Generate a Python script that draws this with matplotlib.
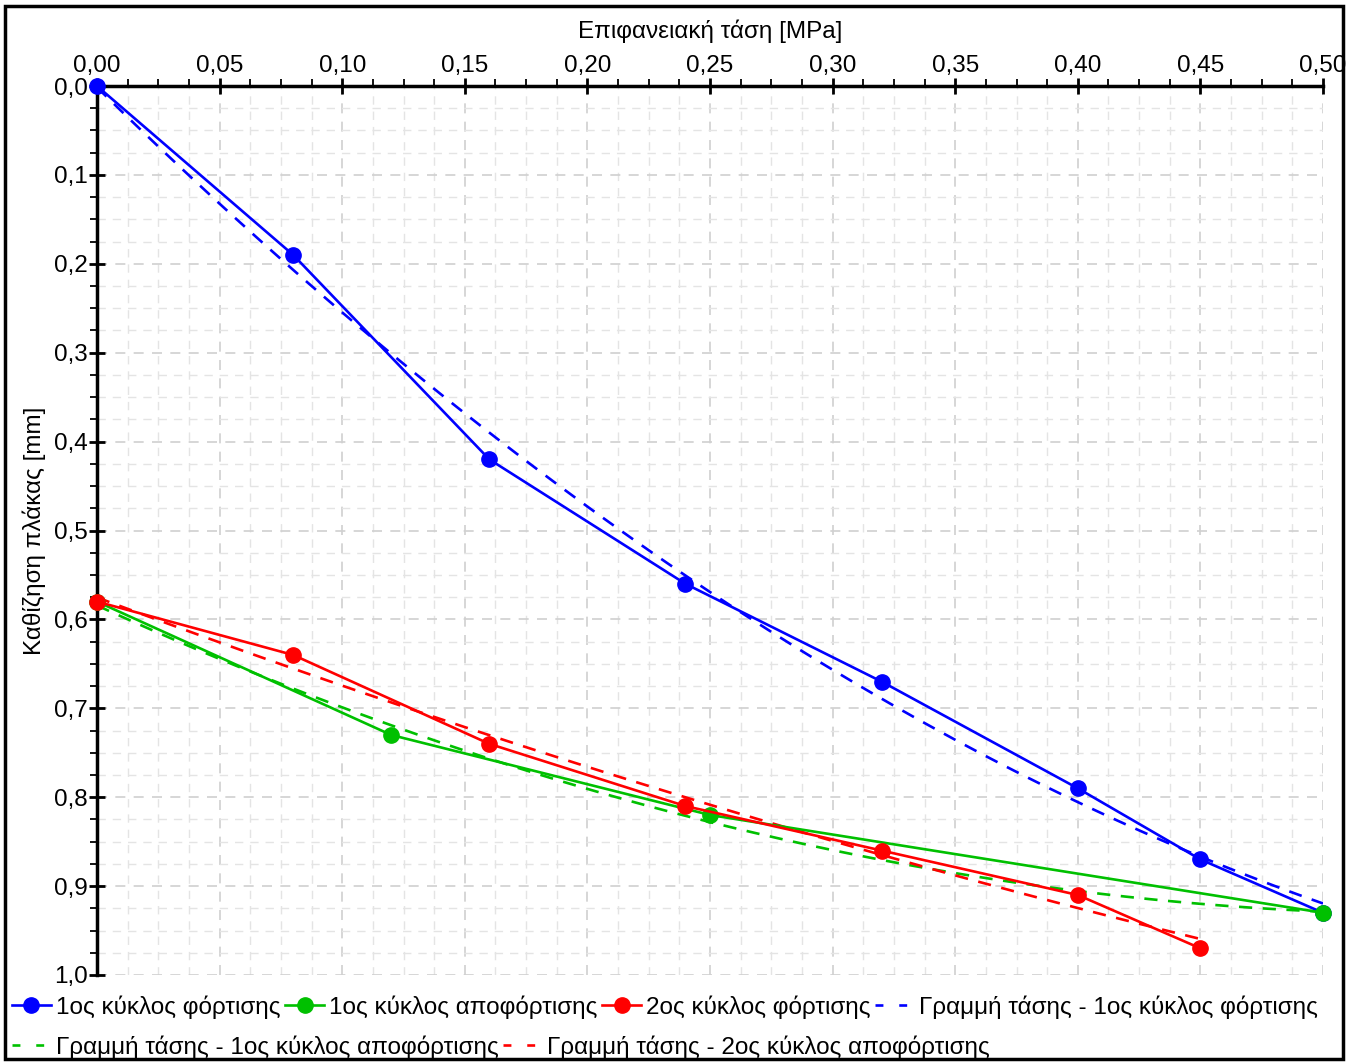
import numpy as np
import matplotlib.pyplot as plt
from matplotlib.ticker import MultipleLocator, FuncFormatter
from matplotlib.lines import Line2D
from matplotlib.patches import Rectangle

plt.rcParams["font.family"] = ["Liberation Sans", "DejaVu Sans"]

# 1ος κύκλος φόρτισης
load1_x = [0.00, 0.08, 0.16, 0.24, 0.32, 0.40, 0.45, 0.50]
load1_y = [0.00, 0.19, 0.42, 0.56, 0.67, 0.79, 0.87, 0.93]
# 1ος κύκλος αποφόρτισης
unload1_x = [0.50, 0.25, 0.12, 0.00]
unload1_y = [0.93, 0.82, 0.73, 0.58]
# 2ος κύκλος φόρτισης
load2_x = [0.00, 0.08, 0.16, 0.24, 0.32, 0.40, 0.45]
load2_y = [0.58, 0.64, 0.74, 0.81, 0.86, 0.91, 0.97]

BLUE = "#0000FF"
GREEN = "#00C000"
RED = "#FF0000"
FS = 17.5

fig = plt.figure(figsize=(13.48, 10.64), dpi=100)
ax = fig.add_axes([97 / 1348, 1 - 975 / 1064, (1323 - 97) / 1348, (975 - 86) / 1064])

series = [
    (load1_x, load1_y, BLUE),
    (unload1_x, unload1_y, GREEN),
    (load2_x, load2_y, RED),
]
for xs, ys, c in series:
    ax.plot(xs, ys, color=c, lw=1.9, marker="o", markersize=11, zorder=3, clip_on=False)

# trend lines (quadratic fit of each series)
for xs, ys, c in series:
    coef = np.polyfit(xs, ys, 2)
    xx = np.linspace(min(xs), max(xs), 100)
    ax.plot(xx, np.polyval(coef, xx), color=c, lw=1.9, ls=(0, (5, 4)), zorder=2)

ax.set_xlim(0, 0.5)
ax.set_ylim(1.0, 0.0)
ax.xaxis.tick_top()
ax.xaxis.set_label_position("top")
ax.xaxis.set_major_locator(MultipleLocator(0.05))
ax.xaxis.set_minor_locator(MultipleLocator(0.0125))
ax.yaxis.set_major_locator(MultipleLocator(0.1))
ax.yaxis.set_minor_locator(MultipleLocator(0.025))
ax.xaxis.set_major_formatter(FuncFormatter(lambda v, p: f"{v:.2f}".replace(".", ",")))
ax.yaxis.set_major_formatter(FuncFormatter(lambda v, p: f"{v:.1f}".replace(".", ",")))
ax.tick_params(which="major", direction="inout", length=11, width=2, labelsize=FS, pad=1)
ax.tick_params(which="minor", direction="out", length=5, width=1.3)
for s in ["right", "bottom"]:
    ax.spines[s].set_visible(False)
for s in ["top", "left"]:
    ax.spines[s].set_linewidth(2.5)
ax.grid(which="major", color="#D0D0D0", ls=(0, (6, 5)), lw=1.2)
ax.grid(which="minor", color="#E4E4E4", ls=(0, (6, 5)), lw=1.0)
ax.set_axisbelow(True)
ax.set_xlabel("Επιφανειακή τάση [MPa]", fontsize=FS, labelpad=12)
ax.set_ylabel("Καθίζηση πλάκας [mm]", fontsize=FS, labelpad=6)

def solid(c):
    return Line2D([], [], color=c, lw=1.9, marker="o", markersize=11)

def dashed(c):
    return Line2D([], [], color=c, lw=1.9, ls=(0, (3, 6)))

row1 = [solid(BLUE), solid(GREEN), solid(RED), dashed(BLUE)]
lab1 = ["1ος κύκλος φόρτισης", "1ος κύκλος αποφόρτισης", "2ος κύκλος φόρτισης",
        "Γραμμή τάσης - 1ος κύκλος φόρτισης"]
row2 = [dashed(GREEN), dashed(RED)]
lab2 = ["Γραμμή τάσης - 1ος κύκλος αποφόρτισης", "Γραμμή τάσης - 2ος κύκλος αποφόρτισης"]

kw = dict(frameon=False, fontsize=FS, handlelength=1.6, handletextpad=0.2,
          columnspacing=0.2, borderpad=0, borderaxespad=0, loc="center left")
fig.legend(row1, lab1, ncol=4, bbox_to_anchor=(12 / 1348, 1 - 1007 / 1064), **kw)
fig.legend(row2, lab2, ncol=2, bbox_to_anchor=(12 / 1348, 1 - 1047 / 1064), **kw)

fig.patches.append(Rectangle((5 / 1348, 5 / 1064), 1338 / 1348, 1053 / 1064,
                             transform=fig.transFigure, fill=False, lw=2.5, ec="black"))

fig.savefig("out.png", dpi=100)
